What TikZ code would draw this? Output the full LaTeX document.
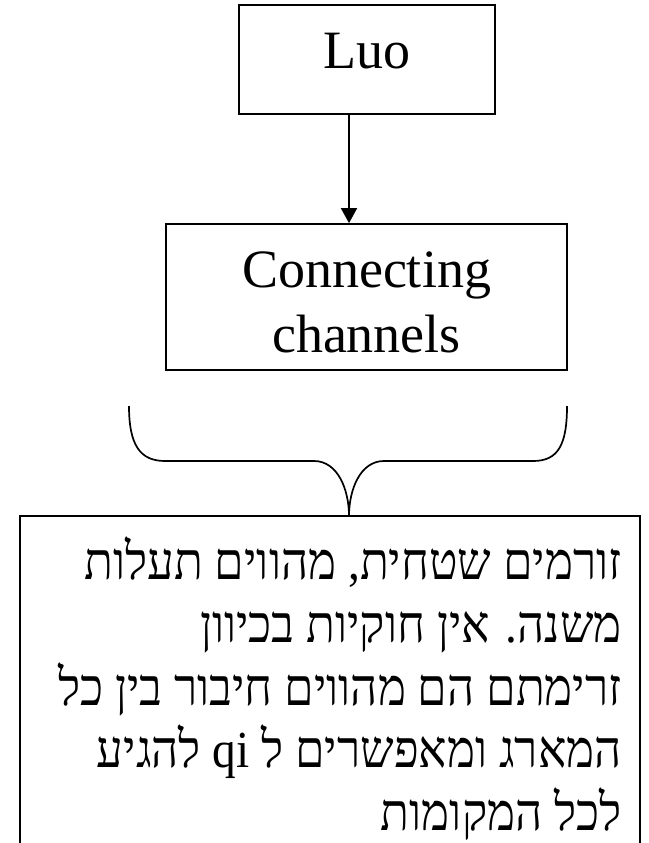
\documentclass[tikz,border=0pt]{standalone}
\usepackage{fontspec}
\setmainfont{Liberation Serif}
\newfontfamily\hebfont[Script=Hebrew,FakeStretch=0.91]{Liberation Serif}
\TeXXeTstate=1
\usetikzlibrary{arrows.meta}
\tikzset{
  box/.style={draw, line width=1.7pt, inner sep=0pt},
  lbl/.style={font=\fontsize{54}{65}\selectfont, inner sep=0pt, anchor=base},
  heb/.style={font=\hebfont\fontsize{52}{63}\selectfont, inner sep=0pt, anchor=base east},
  arr/.style={-{Triangle[length=15pt,width=16pt]}, line width=1.7pt},
  thinline/.style={line width=1.7pt}
}
\begin{document}
\begin{tikzpicture}[x=1pt,y=-1pt]
\useasboundingbox (0,0) rectangle (648,843);
% Luo box
\node[box, minimum width=256pt, minimum height=109pt] (luo) at (367,59.5) {};
\node[lbl] (luot) at (367,68) {Luo};
% Connecting channels box
\node[box, minimum width=401pt, minimum height=146pt] (cc) at (366.5,297) {};
\node[lbl] (cct1) at (366.5,287) {Connecting};
\node[lbl] (cct2) at (366.5,352) {channels};
% arrow
\coordinate (ax) at (349,0);
\draw[arr] (ax |- luo.south) -- (ax |- cc.north);
% brace
\coordinate (tip) at (349,516);
\draw[thinline] (129,406) .. controls (129,445) and (140,461) .. (165,461)
  -- (314,461) .. controls (338,461) and (349,490) .. (tip)
  .. controls (349,490) and (360,461) .. (384,461)
  -- (533,461) .. controls (558,461) and (567,445) .. (567,406);
% bottom box (open at the bottom edge of the picture)
\draw[thinline] (20,843) |- (640,516) -- (640,843);
% Hebrew text
\node[heb] (h1) at (622,579) {\beginR זורמים שטחית, מהווים תעלות\endR};
\node[heb] (h2) at (622,642) {\beginR משנה. אין חוקיות בכיוון\endR};
\node[heb] (h3) at (622,705) {\beginR זרימתם הם מהווים חיבור בין כל\endR};
\node[heb] (h4) at (622,767) {\beginR המארג ומאפשרים ל \beginL qi\endL{} להגיע\endR};
\node[heb] (h5) at (622,830) {\beginR לכל המקומות\endR};
\end{tikzpicture}
\end{document}
